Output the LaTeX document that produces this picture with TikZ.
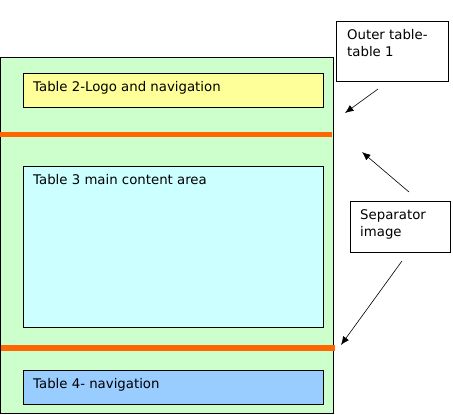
\documentclass[tikz,border=0pt]{standalone}
\usepackage{fontspec}
\setmainfont{DejaVu Sans}
\usepackage{xcolor}
\usepackage{tikz}
\usetikzlibrary{arrows.meta, positioning}
\definecolor{outergreen}{RGB}{204, 255, 204}
\definecolor{logoyellow}{RGB}{255, 255, 153}
\definecolor{contentcyan}{RGB}{204, 255, 255}
\definecolor{navblue}{RGB}{153, 204, 255}
\definecolor{separatororange}{RGB}{255, 102, 0}
\tikzset{
  font=\fontsize{13.3}{16.5}\selectfont,
  tableblock/.style={
    rectangle, draw=black, line width=0.8pt,
    anchor=north west, inner sep=0pt
  },
  noteblock/.style={tableblock, fill=white},
  separatorbar/.style={
    rectangle, fill=separatororange, anchor=north west,
    inner sep=0pt, minimum height=5.5pt
  },
  blocktext/.style={inner sep=0pt, align=left},
  pointer/.style={
    draw=black, -{Latex[length=8.5pt, width=7pt]}, line width=0.6pt
  }
}

\begin{document}
\begin{tikzpicture}[x=1pt, y=-1pt, node distance=8.5pt and 10pt]
  \useasboundingbox (0,0) rectangle (453,415);

  % outer table and the tables inside it
  \node[tableblock, fill=outergreen, minimum width=333pt, minimum height=356pt] (outer) at (0,57) {};
  \node[tableblock, fill=logoyellow, minimum width=300pt, minimum height=34pt] (t2) at (23,73) {};
  \node[tableblock, fill=contentcyan, minimum width=300pt, minimum height=161pt] (t3) at (23,166) {};
  \node[tableblock, fill=navblue, minimum width=300pt, minimum height=34pt] (t4) at (23,370) {};
  \node[separatorbar, minimum width=332pt] (sep1) at (0,131.5) {};
  \node[separatorbar, minimum width=334pt] (sep2) at (1,345) {};

  \node[blocktext, below right=of t2.north west] (t2text) {Table 2-Logo and navigation};
  \node[blocktext, below right=of t3.north west] (t3text) {Table 3 main content area};
  \node[blocktext, below right=of t4.north west] (t4text) {Table 4- navigation};

  % notes
  \node[noteblock, minimum width=112pt, minimum height=60pt] (outernote) at (336,21) {};
  \node[noteblock, minimum width=100pt, minimum height=51pt] (sepnote) at (350,201) {};
  \node[blocktext, below right=8.5pt and 11pt of outernote.north west] (outertext) {Outer table-\\table 1};
  \node[blocktext, below right=of sepnote.north west] (septext) {Separator\\image};

  \coordinate (outerfrom) at (378,89);
  \coordinate (outerto) at (345,113);
  \coordinate (sepfromup) at (409,192);
  \coordinate (septoup) at (362,152);
  \coordinate (sepfromdown) at (402,261);
  \coordinate (septodown) at (341,345);

  \draw[pointer] (outerfrom) -- (outerto);
  \draw[pointer] (sepfromup) -- (septoup);
  \draw[pointer] (sepfromdown) -- (septodown);
\end{tikzpicture}
\end{document}
